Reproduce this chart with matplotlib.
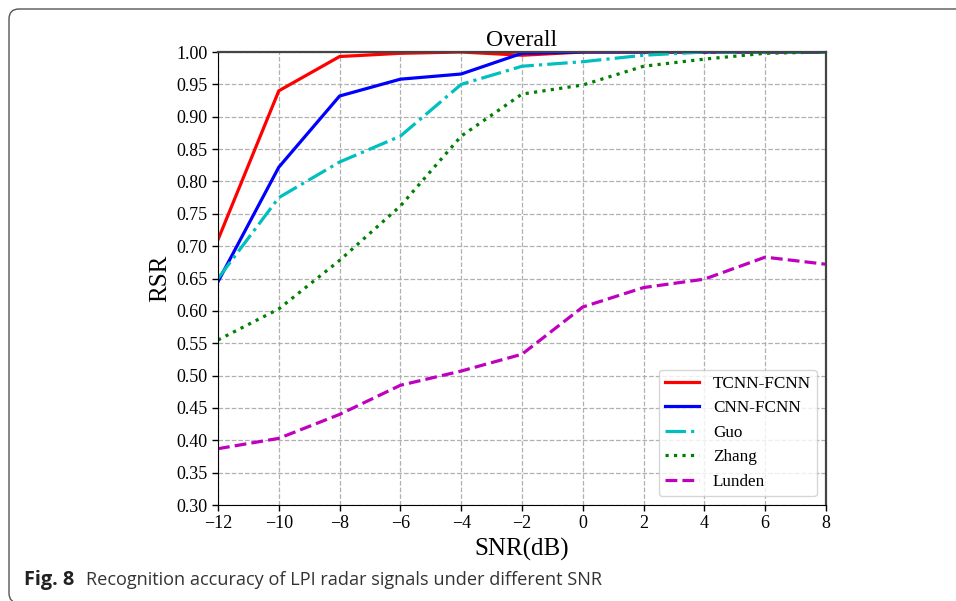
import numpy as np
import matplotlib
matplotlib.use("Agg")
import matplotlib.pyplot as plt
from matplotlib.path import Path
from matplotlib.patches import PathPatch

snr = [-12, -10, -8, -6, -4, -2, 0, 2, 4, 6, 8]

tcnn = [0.710, 0.940, 0.993, 0.998, 1.000, 0.995, 1.000, 1.000, 1.000, 1.000, 1.000]
cnn = [0.645, 0.822, 0.932, 0.958, 0.966, 0.998, 1.000, 1.000, 1.000, 1.000, 1.000]
guo = [0.650, 0.775, 0.830, 0.870, 0.950, 0.978, 0.985, 0.995, 1.000, 1.000, 1.000]
zhang = [0.555, 0.603, 0.678, 0.762, 0.870, 0.935, 0.949, 0.978, 0.989, 0.998, 1.000]
lunden = [0.387, 0.403, 0.440, 0.485, 0.507, 0.533, 0.606, 0.636, 0.649, 0.683, 0.672]

names = ["TCNN-FCNN", "CNN-FCNN", "Guo", "Zhang", "Lunden"]

plt.rcParams['font.family'] = ['Liberation Serif', 'DejaVu Serif']

fig = plt.figure(figsize=(9.56, 6.01), dpi=100)
ax = fig.add_axes([218/956, 1-505/601, (826-218)/956, (505-52)/601])

ax.plot(snr, tcnn, color="red", lw=2.3, ls="-", label=names[0])
ax.plot(snr, cnn, color="blue", lw=2.3, ls="-", label=names[1])
ax.plot(snr, guo, color="c", lw=2.3, ls="-.", label=names[2])
ax.plot(snr, zhang, color="green", lw=2.3, ls=":", label=names[3])
ax.plot(snr, lunden, color="m", lw=2.3, ls="--", label=names[4])

ax.set_xlim(-12, 8)
ax.set_ylim(0.30, 1.00)
ax.set_xticks(np.arange(-12, 9, 2))
ax.set_yticks(np.arange(0.30, 1.001, 0.05))
ax.yaxis.set_major_formatter(matplotlib.ticker.FormatStrFormatter('%.2f'))
ax.tick_params(labelsize=13, length=4, width=1)
ax.grid(True, ls="--", color="#b0b0b0", lw=0.9)
for s in ["top", "right"]:
    ax.spines[s].set_color("#444444")
    ax.spines[s].set_linewidth(1.6)

ax.set_xlabel("SNR(dB)", fontsize=18, labelpad=4)
ax.set_ylabel("RSR", fontsize=18, labelpad=4)
ax.set_title("Overall", fontsize=17, pad=4)

ax.legend(loc="lower right", fontsize=12.3, handlelength=2.0, labelspacing=0.5,
          borderpad=0.35, handletextpad=0.8, framealpha=0.8, borderaxespad=0,
          bbox_to_anchor=(0.985, 0.02))

# frame around the figure (only top and left visible), coordinates in pixels
def px(x, y):
    return (x / 100, (601 - y) / 100)

verts = [px(19, 603), px(9, 603), px(9, 593),
         px(9, 19), px(9, 9), px(19, 9), px(956, 9)]
codes = [Path.MOVETO, Path.CURVE3, Path.CURVE3,
         Path.LINETO, Path.CURVE3, Path.CURVE3, Path.LINETO]
frame = PathPatch(Path(verts, codes), transform=fig.dpi_scale_trans, fill=False,
                  ec="#555555", lw=1.0, clip_on=False)
fig.patches.append(frame)

fig.text(24/956, 1-580/601, "Fig. 8", fontsize=14.3, fontweight="bold", color="#222222",
         family=["Open Sans", "DejaVu Sans"], va="center")
fig.text(86/956, 1-580/601, "Recognition accuracy of LPI radar signals under different SNR",
         fontsize=13.1, color="#333333", family=["Open Sans", "DejaVu Sans"], va="center")

fig.savefig("out.png", dpi=100)
